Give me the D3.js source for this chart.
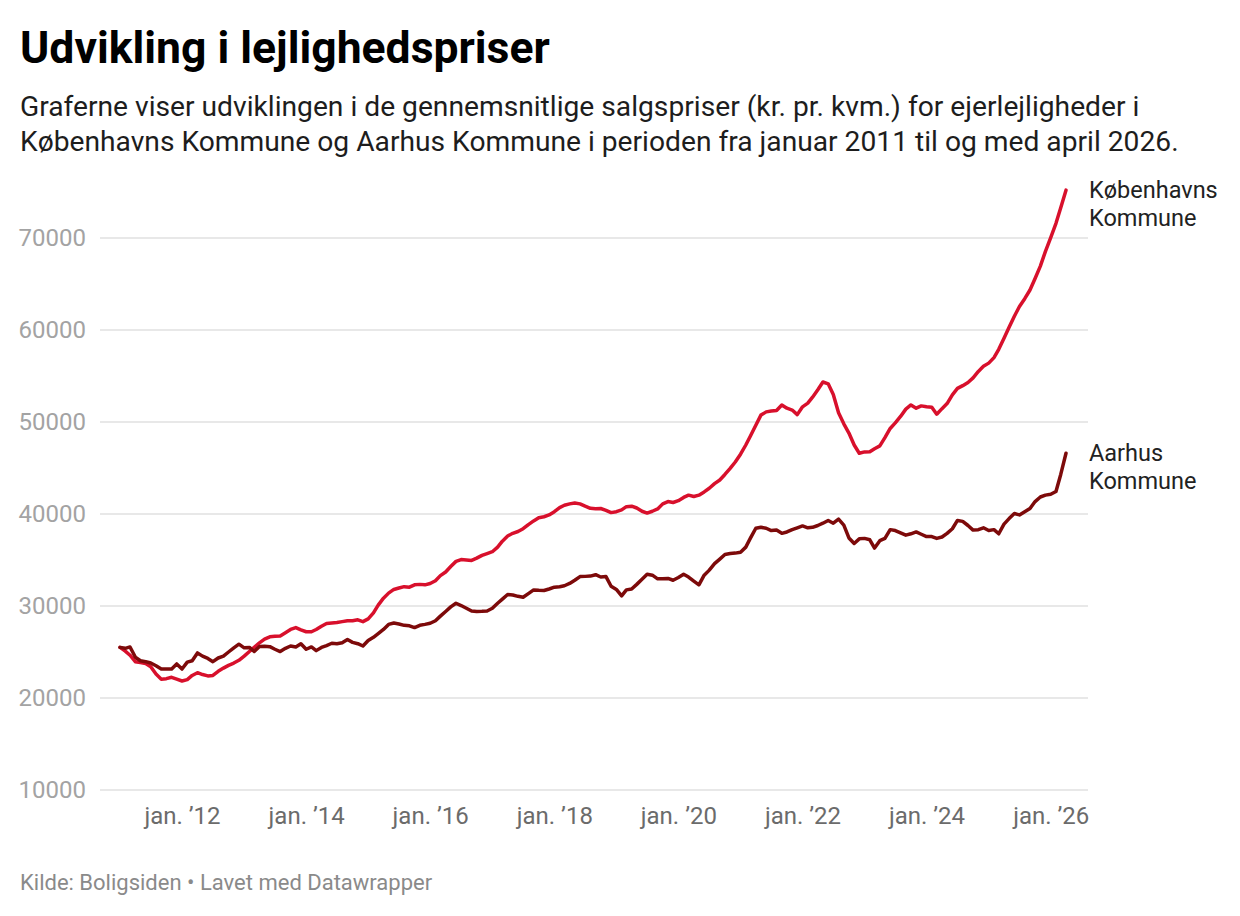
<!DOCTYPE html>
<html>
<head>
<meta charset="utf-8">
<script src="https://cdn.jsdelivr.net/npm/d3@7"></script>
<style>
    body { margin: 0; background: #fff; }
    svg { display: block; font-family: Roboto, "Noto Sans", sans-serif; }
</style>
</head>
<body>
<svg id="chart" width="1240" height="916"></svg>
<script>
// monthly averages, jan 2011 .. apr 2026 (kr. pr. kvm.)
var startMonth = new Date(2011, 0, 1);

var kbhValues = [
    25500, 25100, 24650, 23950, 23850, 23750, 23400, 22600, 22050, 22100, 22250, 22050,
    21850, 22000, 22450, 22750, 22550, 22400, 22450, 22900, 23250, 23550, 23800, 24100,
    24550, 25050, 25500, 26000, 26400, 26650, 26700, 26750, 27100, 27450, 27650, 27400,
    27200, 27200, 27450, 27800, 28100, 28150, 28200, 28300, 28400, 28400, 28500, 28300,
    28600, 29250, 30100, 30850, 31400, 31800, 31950, 32100, 32050, 32300, 32350, 32300,
    32450, 32750, 33300, 33700, 34300, 34850, 35050, 35000, 34950, 35200, 35500, 35700,
    35900, 36400, 37050, 37600, 37900, 38100, 38400, 38850, 39250, 39600, 39700, 39900,
    40250, 40700, 40950, 41100, 41200, 41100, 40850, 40620, 40580, 40600, 40400, 40150,
    40250, 40450, 40800, 40850, 40650, 40300, 40100, 40300, 40550, 41100, 41350, 41250,
    41450, 41800, 42050, 41900, 42050, 42400, 42800, 43300, 43700, 44300, 44950, 45650,
    46500, 47500, 48500, 49650, 50750, 51100, 51200, 51250, 51850, 51500, 51300, 50800,
    51650, 52050, 52700, 53500, 54350, 54150, 53000, 51000, 49800, 48800, 47500, 46600,
    46750, 46770, 47100, 47400, 48300, 49300, 49900, 50600, 51400, 51850, 51500, 51750,
    51650, 51600, 50850, 51450, 52000, 52950, 53650, 53950, 54300, 54800, 55500, 56050,
    56400, 57000, 57900, 59100, 60300, 61500, 62550, 63400, 64350, 65600, 66950, 68550,
    70050, 71600, 73300, 75200
];

var aarhusValues = [
    25500, 25400, 25550, 24450, 24050, 23950, 23800, 23500, 23150, 23150, 23150, 23700,
    23150, 23900, 24050, 24900, 24550, 24300, 23950, 24350, 24550, 25000, 25450, 25850,
    25450, 25500, 25050, 25600, 25620, 25580, 25300, 25050, 25400, 25650, 25550, 25900,
    25300, 25550, 25150, 25500, 25700, 25950, 25900, 26000, 26350, 26050, 25900, 25650,
    26250, 26600, 27000, 27450, 28000, 28150, 28050, 27900, 27850, 27650, 27900, 28000,
    28120, 28400, 28900, 29400, 29900, 30300, 30050, 29750, 29450, 29400, 29420, 29460,
    29750, 30300, 30750, 31250, 31200, 31050, 30950, 31350, 31750, 31700, 31680, 31850,
    32050, 32100, 32200, 32450, 32800, 33200, 33220, 33250, 33400, 33150, 33200, 32150,
    31800, 31100, 31750, 31850, 32350, 32900, 33450, 33350, 32950, 32950, 33000, 32800,
    33100, 33450, 33150, 32700, 32300, 33350, 33900, 34600, 35100, 35600, 35700, 35750,
    35850, 36400, 37400, 38450, 38550, 38450, 38200, 38250, 37900, 38050, 38300, 38500,
    38700, 38500, 38550, 38750, 39000, 39300, 39000, 39450, 38800, 37400, 36800, 37300,
    37350, 37200, 36300, 37100, 37350, 38300, 38200, 37950, 37700, 37850, 38050, 37800,
    37550, 37550, 37350, 37500, 37900, 38400, 39300, 39200, 38750, 38250, 38300, 38500,
    38200, 38300, 37850, 38900, 39500, 40050, 39900, 40250, 40600, 41350, 41850, 42050,
    42150, 42450, 44300, 46600
];

var yTicks = [10000, 20000, 30000, 40000, 50000, 60000, 70000];
var xTickYears = [2012, 2014, 2016, 2018, 2020, 2022, 2024, 2026];

var series = [
    {name: ["Københavns", "Kommune"], values: kbhValues, color: "#d8102c"},
    {name: ["Aarhus", "Kommune"], values: aarhusValues, color: "#7d0a0a"}
];

var svg = d3.select("#chart");

var x = d3.scaleTime()
    .domain([startMonth, d3.timeMonth.offset(startMonth, kbhValues.length - 1)])
    .range([120, 1066]);
var y = d3.scaleLinear().domain([10000, 70000]).range([790, 238]);

// header
svg.append("text")
    .attr("x", 20).attr("y", 63)
    .attr("font-size", 44.5).attr("font-weight", 700).attr("fill", "#000")
    .text("Udvikling i lejlighedspriser");

var subtitle = [
    "Graferne viser udviklingen i de gennemsnitlige salgspriser (kr. pr. kvm.) for ejerlejligheder i",
    "Københavns Kommune og Aarhus Kommune i perioden fra januar 2011 til og med april 2026."
];
svg.selectAll(".sub").data(subtitle).enter().append("text")
    .attr("class", "sub")
    .attr("x", 20).attr("y", function (d, i) { return 116 + i * 35; })
    .attr("font-size", 28.2).attr("fill", "#1d1d1d")
    .text(function (d) { return d; });

// grid
var grid = svg.append("g");
grid.selectAll("line").data(yTicks).enter().append("line")
    .attr("x1", 100).attr("x2", 1088)
    .attr("y1", function (d) { return y(d); })
    .attr("y2", function (d) { return y(d); })
    .attr("stroke", "#e0e0e0").attr("stroke-width", 1.5);

// y labels
var gy = svg.append("g").attr("transform", "translate(100,0)")
    .call(d3.axisLeft(y).tickValues(yTicks).tickSize(0).tickPadding(14).tickFormat(d3.format("d")));
gy.select(".domain").remove();
gy.selectAll("text").attr("font-family", "Roboto").attr("font-size", 24).attr("fill", "#a3a3a3");

// x labels
var monthShort = "jan.";
var gx = svg.append("g").attr("transform", "translate(0,798)")
    .call(d3.axisBottom(x)
        .tickValues(xTickYears.map(function (yr) { return new Date(yr, 0, 1); }))
        .tickSize(0).tickPadding(9)
        .tickFormat(function (d) { return monthShort + " \u2019" + String(d.getFullYear()).slice(2); }));
gx.select(".domain").remove();
gx.selectAll("text").attr("font-family", "Roboto").attr("font-size", 24).attr("fill", "#6b6b6b");

// lines
var line = d3.line()
    .x(function (d, i) { return x(d3.timeMonth.offset(startMonth, i)); })
    .y(function (d) { return y(d); })
    .curve(d3.curveLinear);

series.forEach(function (s) {
    svg.append("path")
        .datum(s.values)
        .attr("fill", "none")
        .attr("stroke", s.color)
        .attr("stroke-width", 3.5)
        .attr("stroke-linejoin", "round")
        .attr("stroke-linecap", "round")
        .attr("d", line);

    var last = s.values[s.values.length - 1];
    var lbl = svg.append("text")
        .attr("x", 1089)
        .attr("y", y(last) + 8)
        .attr("font-size", 23.5).attr("fill", "#222");
    s.name.forEach(function (part, i) {
        lbl.append("tspan").attr("x", 1089).attr("dy", i ? 28 : 0).text(part);
    });
});

// footer
svg.append("text")
    .attr("x", 20).attr("y", 890)
    .attr("font-size", 22).attr("fill", "#8a8a8a")
    .text("Kilde: Boligsiden \u2022 Lavet med Datawrapper");
</script>
</body>
</html>
